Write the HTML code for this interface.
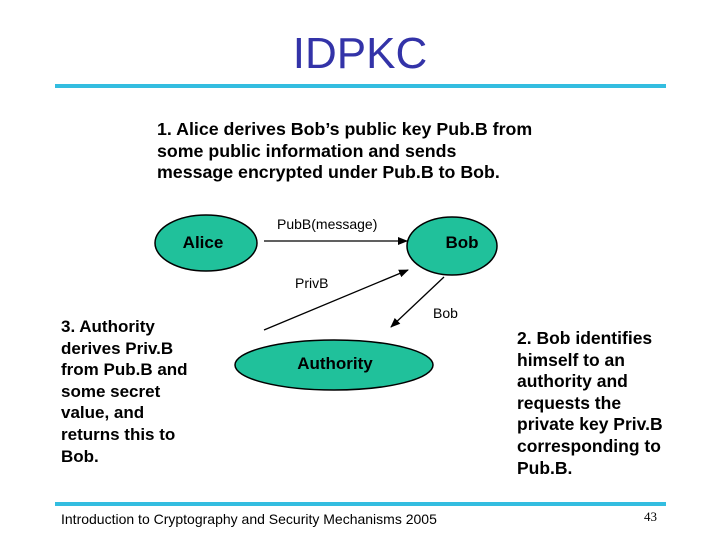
<!DOCTYPE html>
<html><head><meta charset="utf-8"><style>
html,body{margin:0;padding:0;background:#fff;}
body{width:720px;height:540px;position:relative;overflow:hidden;font-family:"Liberation Sans",Arial,sans-serif;}
.t{position:absolute;color:#000;white-space:nowrap;}
.b{font-weight:bold;font-size:17px;line-height:21.6px;}
</style></head><body>
<svg width="720" height="540" style="position:absolute;left:0;top:0">
<defs><marker id="a" markerWidth="10" markerHeight="8" refX="9" refY="4" orient="auto" markerUnits="userSpaceOnUse"><path d="M0,0 L10,4 L0,8 Z" fill="#000"/></marker></defs>
<rect x="55" y="84" width="611" height="4" fill="#33bde0"/>
<rect x="55" y="502" width="611" height="4" fill="#33bde0"/>
<ellipse cx="206" cy="243" rx="51" ry="28" fill="#20c19b" stroke="#000" stroke-width="1.5"/>
<ellipse cx="452" cy="246" rx="45" ry="29" fill="#20c19b" stroke="#000" stroke-width="1.5"/>
<ellipse cx="334" cy="365" rx="99" ry="25" fill="#20c19b" stroke="#000" stroke-width="1.5"/>
<line x1="264" y1="241" x2="407" y2="241" stroke="#000" stroke-width="1.3" marker-end="url(#a)"/>
<line x1="264" y1="330" x2="408" y2="270" stroke="#000" stroke-width="1.3" marker-end="url(#a)"/>
<line x1="444" y1="277" x2="391" y2="327" stroke="#000" stroke-width="1.3" marker-end="url(#a)"/>
<text x="360" y="68" text-anchor="middle" font-family="Liberation Sans, Arial, sans-serif" font-size="44" fill="#3333a8">IDPKC</text>
<text x="203" y="248" text-anchor="middle" font-family="Liberation Sans, Arial, sans-serif" font-size="17" font-weight="bold">Alice</text>
<text x="462" y="248" text-anchor="middle" font-family="Liberation Sans, Arial, sans-serif" font-size="17" font-weight="bold">Bob</text>
<text x="335" y="369" text-anchor="middle" font-family="Liberation Sans, Arial, sans-serif" font-size="17" font-weight="bold">Authority</text>
<text x="277" y="229" font-family="Liberation Sans, Arial, sans-serif" font-size="14">PubB(message)</text>
<text x="295" y="288" font-family="Liberation Sans, Arial, sans-serif" font-size="14">PrivB</text>
<text x="433" y="318" font-family="Liberation Sans, Arial, sans-serif" font-size="14">Bob</text>
<text x="61" y="524" font-family="Liberation Sans, Arial, sans-serif" font-size="14">Introduction to Cryptography and Security Mechanisms 2005</text>
<text x="644" y="521" font-family="Liberation Serif, serif" font-size="13">43</text>
</svg>
<div class="t b" style="left:157px;top:119px;font-size:17.8px;">1. Alice derives Bob’s public key Pub.B from<br>some public information and sends<br>message encrypted under Pub.B to Bob.</div>
<div class="t b" style="left:61px;top:316px;">3. Authority<br>derives Priv.B<br>from Pub.B and<br>some secret<br>value, and<br>returns this to<br>Bob.</div>
<div class="t b" style="left:517px;top:328px;font-size:17.5px;">2. Bob identifies<br>himself to an<br>authority and<br>requests the<br>private key Priv.B<br>corresponding to<br>Pub.B.</div>
</body></html>
